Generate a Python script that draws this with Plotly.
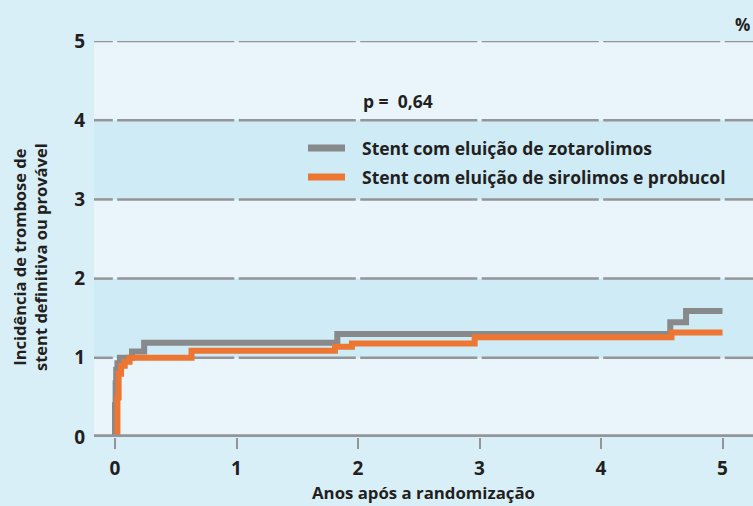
import plotly.graph_objects as go

# ---- data ----
years_ticks = [0, 1, 2, 3, 4, 5]
year_labels = ["0", "1", "2", "3", "4", "5"]
inc_ticks = [0, 1, 2, 3, 4, 5]
inc_labels = ["0", "1", "2", "3", "4", "5"]

zota_x = [0.0, 0.0, 0.005, 0.01, 0.02, 0.04, 0.14, 0.24, 1.83, 4.57, 4.70, 5.0]
zota_y = [0.0, 0.4, 0.68, 0.85, 0.93, 1.0, 1.08, 1.19, 1.30, 1.45, 1.59, 1.59]

siro_x = [0.02, 0.02, 0.03, 0.05, 0.08, 0.12, 0.63, 1.81, 1.95, 2.96, 4.58, 5.0]
siro_y = [0.0, 0.5, 0.8, 0.9, 0.95, 1.0, 1.09, 1.14, 1.18, 1.26, 1.32, 1.32]

name_zota = "Stent com eluição de zotarolimos"
name_siro = "Stent com eluição de sirolimos e probucol"
p_text = "p = 0,64"

# ---- layout constants ----
W, H = 753, 506
L, R, T, B = 94, 0, 41, 69
pw, ph = W - L - R, H - T - B
XMIN = (L - 115) / 121.5
XMAX = XMIN + pw / 121.5

FONT = "Open Sans"
TXT = "#231f20"
GRID = "#939598"
OUT_BG = "#d9eff8"
LIGHT = "#e9f5fb"
BLUE = "#cfebf6"
C_ZOTA = "#88898b"
C_SIRO = "#ec7632"


def px(xp):
    return (xp - L) / pw


def py(yp):
    return (H - B - yp) / ph


fig = go.Figure()

fig.add_trace(go.Scatter(
    x=zota_x, y=zota_y, mode="lines", line=dict(color=C_ZOTA, width=6, shape="hv"),
    name=name_zota, showlegend=False, hoverinfo="skip"))
fig.add_trace(go.Scatter(
    x=siro_x, y=siro_y, mode="lines", line=dict(color=C_SIRO, width=6, shape="hv"),
    name=name_siro, showlegend=False, hoverinfo="skip"))

shapes = []
# alternating bands
for i in range(5):
    shapes.append(dict(type="rect", xref="x", yref="y", x0=XMIN, x1=XMAX,
                       y0=inc_ticks[i], y1=inc_ticks[i + 1],
                       fillcolor=LIGHT if i % 2 == 0 else BLUE, line=dict(width=0), layer="below"))
# gridlines with gaps at x ticks
g = 2.2 / 121.5
bounds = [XMIN] + years_ticks + [XMAX]
for yv in inc_ticks[1:]:
    for j in range(len(bounds) - 1):
        a = bounds[j] + (g if j > 0 else 0)
        b = bounds[j + 1] - (g if j < len(bounds) - 2 else 0)
        shapes.append(dict(type="line", xref="x", yref="y", x0=a, x1=b, y0=yv, y1=yv,
                           line=dict(color=GRID, width=2.5), layer="below"))
# x axis line
shapes.append(dict(type="line", xref="x", yref="y", x0=XMIN, x1=XMAX, y0=0, y1=0,
                   line=dict(color=GRID, width=5.5), layer="above"))

# legend swatches
for name, col, yp in [(name_zota, C_ZOTA, 148), (name_siro, C_SIRO, 177)]:
    shapes.append(dict(type="line", xref="paper", yref="paper", x0=px(308), x1=px(345),
                       y0=py(yp), y1=py(yp), line=dict(color=col, width=7)))

annotations = [
    dict(text="<b>Incidência de trombose de<br>stent definitiva ou provável</b>",
         xref="paper", yref="paper", x=px(30), y=py(257),
         xanchor="center", yanchor="middle", textangle=-90, showarrow=False,
         font=dict(family=FONT, size=16.5, color=TXT)),
    dict(text="<b>%</b>", xref="paper", yref="paper", x=px(742), y=py(25),
         xanchor="center", yanchor="middle", showarrow=False,
         font=dict(family=FONT, size=17, color=TXT)),
    dict(text="<b>" + p_text.replace(" = ", " =  ") + "</b>", xref="paper", yref="paper",
         x=px(361), y=py(101), xanchor="left", yanchor="middle", showarrow=False,
         font=dict(family=FONT, size=17.5, color=TXT)),
]
for name, yp in [(name_zota, 148), (name_siro, 177)]:
    annotations.append(dict(text="<b>" + name + "</b>", xref="paper", yref="paper",
                            x=px(360), y=py(yp), xanchor="left", yanchor="middle",
                            showarrow=False, font=dict(family=FONT, size=17.5, color=TXT)))

fig.update_layout(
    width=W, height=H,
    margin=dict(l=L, r=R, t=T, b=B, pad=0),
    paper_bgcolor=OUT_BG, plot_bgcolor=OUT_BG,
    shapes=shapes, annotations=annotations,
    showlegend=False,
    xaxis=dict(range=[XMIN, XMAX], tickvals=years_ticks, ticktext=year_labels,
               showgrid=False, zeroline=False, showline=False,
               ticks="outside", ticklen=11, tickwidth=2, tickcolor=GRID,
               tickfont=dict(family=FONT, size=19, color=TXT, weight="bold"),
               ticklabelstandoff=3,
               title=dict(text="<b>Anos após a randomização</b>", standoff=4,
                          font=dict(family=FONT, size=16.8, color=TXT))),
    yaxis=dict(range=[0, 5], tickvals=inc_ticks, ticktext=inc_labels,
               showgrid=False, zeroline=False, showline=False, ticks="",
               ticklabelstandoff=8,
               tickfont=dict(family=FONT, size=19, color=TXT, weight="bold")),
)

fig.write_html("out.html", config={"displayModeBar": False},
               post_script="document.body.style.margin='0';document.body.style.background='" + OUT_BG + "';")
